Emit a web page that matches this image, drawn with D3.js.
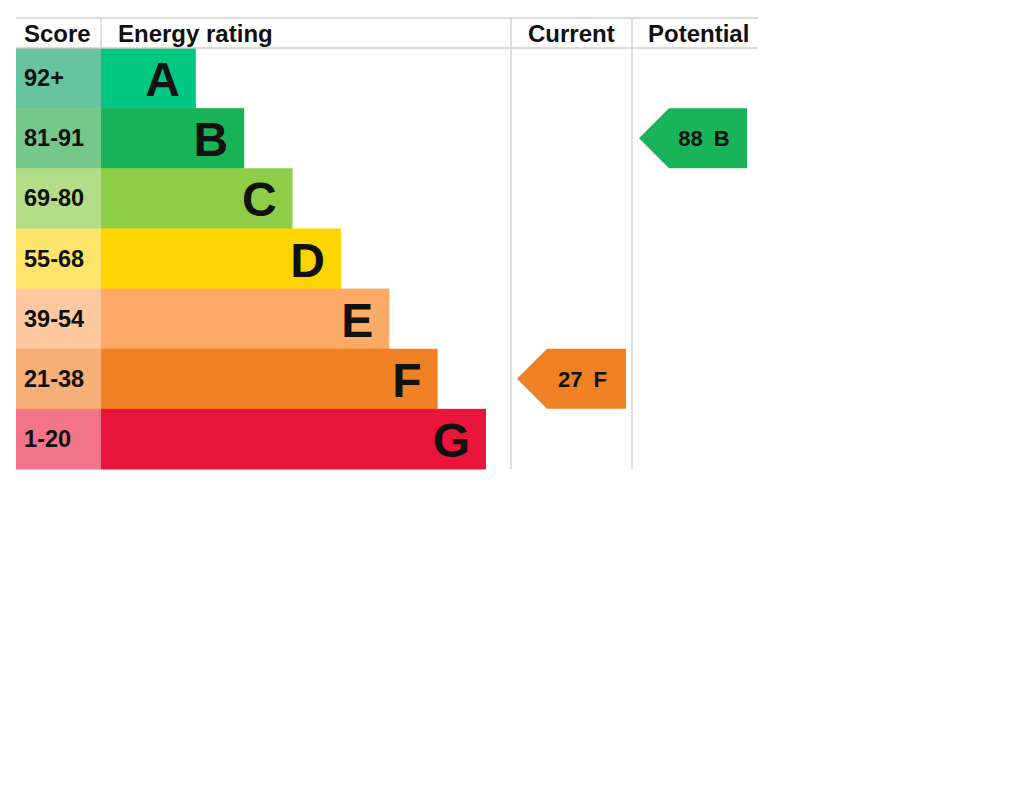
<!DOCTYPE html>
<html><head><meta charset="utf-8">
<script src="https://cdn.jsdelivr.net/npm/d3@7"></script>
<style>body{margin:0;background:#fff}svg{display:block}text{font-family:"Liberation Sans",Arial,sans-serif;font-weight:bold;fill:#111}</style>
</head><body>
<svg id="c" width="1024" height="791"></svg>
<script>
const ratings = ["A","B","C","D","E","F","G"];
const scoreRanges = ["92+","81-91","69-80","55-68","39-54","21-38","1-20"];
const barColors = ["#00c781","#19b459","#8dce46","#ffd500","#fcaa65","#ef8023","#e9153b"];
const scoreColors = ["#66c5a0","#75c88a","#b3dd86","#ffe46b","#fdc8a0","#f4ae76","#f27488"];
const barLength = [1,2,3,4,5,6,7];
const headers = ["Score","Energy rating","Current","Potential"];
const currentScore = 27, currentRating = "F";
const potentialScore = 88, potentialRating = "B";

const svg = d3.select("#c");
const L = 16, scoreRight = 101, curLeft = 511, potLeft = 632, R = 758;
const T = 18, headBottom = 48, B = 469;

const y = d3.scaleBand().domain(ratings).range([headBottom, B]).paddingInner(0);
const x = d3.scaleLinear().domain([0,7]).range([147.5, 486]);

svg.selectAll("rect.s").data(ratings).join("rect").attr("class","s")
  .attr("x", L).attr("y", d => y(d)).attr("width", scoreRight-L).attr("height", y.bandwidth()+0.5)
  .attr("fill", (d,i) => scoreColors[i]);
svg.selectAll("rect.b").data(ratings).join("rect").attr("class","b")
  .attr("x", scoreRight).attr("y", d => y(d)).attr("width", (d,i) => x(barLength[i]) - scoreRight).attr("height", y.bandwidth()+0.5)
  .attr("fill", (d,i) => barColors[i]);
svg.selectAll("text.sc").data(ratings).join("text").attr("class","sc")
  .attr("x", 24).attr("y", d => y(d) + y.bandwidth()/2 + 8).attr("font-size", 23.5)
  .text((d,i) => scoreRanges[i]);
svg.selectAll("text.l").data(ratings).join("text").attr("class","l")
  .attr("x", (d,i) => x(barLength[i]) - 16).attr("y", d => y(d) + y.bandwidth()/2 + 18)
  .attr("text-anchor","end").attr("font-size", 48)
  .text(d => d);

const g = svg.append("g").attr("stroke","#cfcfcf").attr("stroke-width",1.3);
g.append("line").attr("x1",L).attr("x2",R).attr("y1",T).attr("y2",T);
g.append("line").attr("x1",L).attr("x2",R).attr("y1",headBottom).attr("y2",headBottom);
g.append("line").attr("x1",scoreRight).attr("x2",scoreRight).attr("y1",T).attr("y2",headBottom);
g.append("line").attr("x1",curLeft).attr("x2",curLeft).attr("y1",T).attr("y2",B);
g.append("line").attr("x1",potLeft).attr("x2",potLeft).attr("y1",T).attr("y2",B);

const hx = [24, 118, 528, 648];
svg.selectAll("text.h").data(headers).join("text").attr("class","h")
  .attr("x", (d,i) => hx[i]).attr("y", 42).attr("font-size", 24).text(d => d);

function arrow(x0, x1, rating, score) {
  const i = ratings.indexOf(rating);
  const t = y(rating), b = t + y.bandwidth(), m = (t+b)/2, notch = x0 + 30;
  svg.append("path").attr("d", `M${x0},${m}L${notch},${t}L${x1},${t}L${x1},${b}L${notch},${b}Z`)
    .attr("fill", barColors[i]);
  svg.append("text").attr("x", (x0+x1)/2 + 11).attr("y", m + 8).attr("text-anchor","middle")
    .attr("font-size", 22).text(score + "\u2002" + rating);
}
arrow(517, 626, currentRating, currentScore);
arrow(639, 747, potentialRating, potentialScore);
</script>
</body></html>
